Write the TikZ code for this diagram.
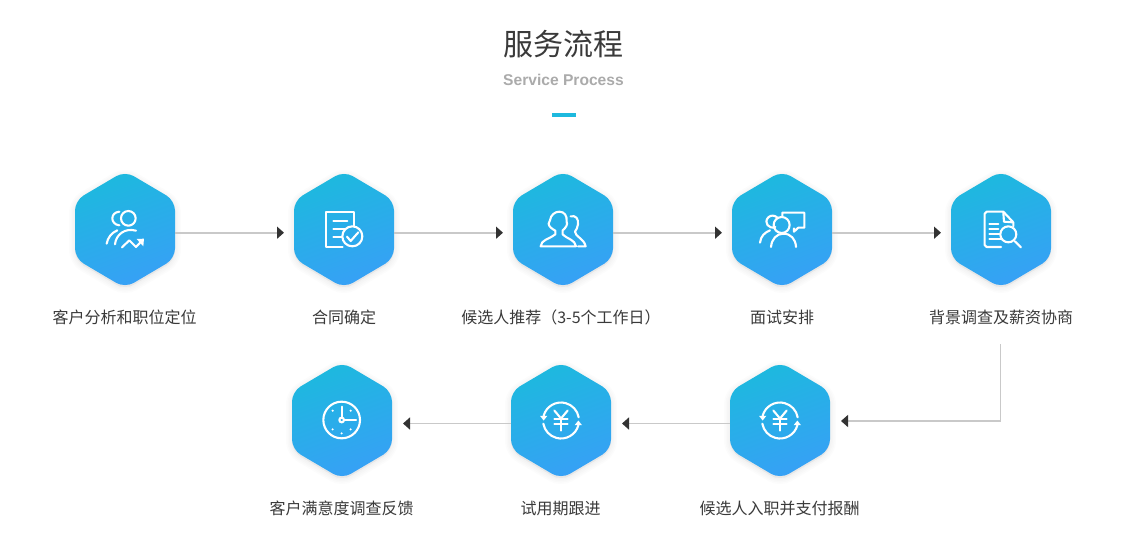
\documentclass[tikz,border=0pt]{standalone}
\usepackage{fontspec}
\setmainfont{Noto Sans CJK SC}
\newfontfamily\latinfont{Liberation Sans}
\usetikzlibrary{arrows.meta}
\definecolor{hextop}{HTML}{1DB9DE}
\definecolor{hexbot}{HTML}{37A0F6}
\definecolor{linegrey}{HTML}{C9C9C9}
\definecolor{tipdark}{HTML}{333333}
\definecolor{txt}{HTML}{3A3A3A}
\tikzset{
  x=1pt,y=-1pt,
  hexanchor/.style={minimum width=100pt,minimum height=111pt,inner sep=0pt,outer sep=0pt},
  steplabel/.style={text=txt,font=\fontsize{16}{18}\selectfont,inner sep=0pt},
  flow/.style={draw=linegrey,line width=1.6pt,-{Triangle[length=7pt,width=12pt,color=tipdark]},shorten >=10pt},
  icon/.style={draw=white,line width=2.1pt,line cap=round,line join=round,fill=none},
  iconfill/.style={fill=white,draw=none},
  zoomscale/.style={x=0.3333pt,y=-0.3333pt}
}
\newcommand{\hexpath}[2]{(#1,#2-58.5) -- (#1+50,#2-29) -- (#1+50,#2+29) -- (#1,#2+58.5) -- (#1-50,#2+29) -- (#1-50,#2-29) -- cycle}
\newcommand{\hexagon}[3]{%
  \foreach \w in {12,9,6,3}{\draw[black,opacity=0.012,line width=\w pt,rounded corners=10pt,fill=black,fill opacity=0.012] \hexpath{#2}{#3+2};}
  \shade[rounded corners=10pt,top color=hextop,bottom color=hexbot,shading angle=20] \hexpath{#2}{#3};
  \node[hexanchor] (#1) at (#2,#3) {};
}
\newcommand{\yenicon}[2]{%
  \begin{scope}[shift={(#1,#2)},zoomscale]
    \draw[icon] (-52.2,-14) arc[start angle=195,end angle=350,radius=54];
    \draw[icon] (52.2,14) arc[start angle=15,end angle=170,radius=54];
    \path[iconfill] (-63,-14) -- (-41,-14) -- (-52,0) -- cycle;
    \path[iconfill] (63,14) -- (41,14) -- (52,0) -- cycle;
    \draw[icon] (-20,-30) -- (0,-6) -- (20,-30);
    \draw[icon] (-20,-4) -- (20,-4);
    \draw[icon] (-20,11) -- (20,11);
    \draw[icon] (0,-6) -- (0,30);
  \end{scope}%
}
\begin{document}
\begin{tikzpicture}
\useasboundingbox[fill=white] (0,0) rectangle (1135,558);

\node[inner sep=0pt,text=txt,font=\fontsize{30}{34}\selectfont] (title) at (563.5,44) {服务流程};
\node[inner sep=0pt,text=black!33,font=\latinfont\bfseries\fontsize{15.6}{17}\selectfont] (subtitle) at (563.5,80) {Service Process};
\path[fill=hextop] (552,113) rectangle (576,117);

\hexagon{h1}{125}{229.5}
\hexagon{h2}{344}{229.5}
\hexagon{h3}{563}{229.5}
\hexagon{h4}{782}{229.5}
\hexagon{h5}{1001}{229.5}
\hexagon{h6}{780}{420.5}
\hexagon{h7}{561}{420.5}
\hexagon{h8}{342}{420.5}

\node[steplabel] (l1) at (124.5,317.5) {客户分析和职位定位};
\node[steplabel] (l2) at (344,317.5) {合同确定};
\node[steplabel] (l3) at (561,317.5) {候选人推荐（3-5个工作日）};
\node[steplabel] (l4) at (782,317.5) {面试安排};
\node[steplabel] (l5) at (1001,317.5) {背景调查及薪资协商};
\node[steplabel] (l6) at (779.5,508.5) {候选人入职并支付报酬};
\node[steplabel] (l7) at (560.5,508.5) {试用期跟进};
\node[steplabel] (l8) at (341.5,508.5) {客户满意度调查反馈};

\draw[flow] ([yshift=-3.2pt]h1.east) -- ([yshift=-3.2pt]h2.west);
\draw[flow] ([yshift=-3.2pt]h2.east) -- ([yshift=-3.2pt]h3.west);
\draw[flow] ([yshift=-3.2pt]h3.east) -- ([yshift=-3.2pt]h4.west);
\draw[flow] ([yshift=-3.2pt]h4.east) -- ([yshift=-3.2pt]h5.west);
\coordinate (turn) at (1000.5,421);
\coordinate (drop) at (1000.5,344);
\draw[flow,line width=1.1pt,shorten >=11pt] (drop) -- (turn) -- ([yshift=-0.5pt]h6.east);
\draw[flow,shorten >=11pt] ([yshift=-3pt]h6.west) -- ([yshift=-3pt]h7.east);
\draw[flow,shorten >=11pt] ([yshift=-3pt]h7.west) -- ([yshift=-3pt]h8.east);

% icon 1
\begin{scope}[shift={(60,165)},zoomscale]
  \draw[icon] (205,160) circle (22);
  \draw[icon] (178,140) .. controls (150,142) and (150,178) .. (178,181);
  \draw[icon] (165,238) .. controls (168,208) and (195,188) .. (228,197);
  \draw[icon] (140,236) .. controls (143,218) and (155,203) .. (172,196);
  \draw[icon] (186,247) -- (208,226) -- (228,246) -- (245,228);
  \path[iconfill] (230,222) -- (252,221) -- (250,244) -- cycle;
\end{scope}
% icon 2
\begin{scope}[shift={(300,165)},zoomscale]
  \draw[icon] (128,245) -- (77,245) -- (77,140) -- (163,140) -- (163,184);
  \draw[icon] (100,168) -- (142,168);
  \draw[icon] (100,192) -- (135,192);
  \draw[icon] (100,215) -- (125,215);
  \draw[icon] (157,214) circle (30);
  \draw[icon] (141,215) -- (152,228) -- (175,202);
\end{scope}
% icon 3
\begin{scope}[shift={(300,165)},zoomscale]
  \draw[icon] (722,244) .. controls (724,224) and (745,224) .. (766,208)
    -- (766,197) .. controls (756,192) and (746,184) .. (746,176)
    .. controls (750,172) and (749,170) .. (750,166)
    .. controls (752,150) and (765,140) .. (778,140)
    .. controls (793,140) and (802,152) .. (800,170)
    .. controls (805,178) and (796,190) .. (788,196)
    -- (788,208) .. controls (805,224) and (825,224) .. (828,244) -- cycle;
  \draw[icon] (812,154) .. controls (828,150) and (836,162) .. (834,178)
    .. controls (836,188) and (826,194) .. (825,200)
    .. controls (826,216) and (852,220) .. (857,244) -- (834,244);
\end{scope}
% icon 4
\begin{scope}[shift={(720,165)},zoomscale]
  \draw[icon] (187,155) -- (187,143) -- (253,143) -- (253,188) -- (235,188) -- (222,200) -- (222,190);
  \draw[icon] (166,186) .. controls (146,194) and (130,172) .. (145,157) .. controls (152,150) and (165,150) .. (172,158);
  \draw[icon] (185,180) circle (24);
  \draw[icon] (120,233) .. controls (122,213) and (135,202) .. (150,196);
  \draw[icon] (153,246) .. controls (155,222) and (170,206) .. (190,206) .. controls (212,206) and (227,222) .. (228,246);
\end{scope}
% icon 5
\begin{scope}[shift={(720,165)},zoomscale]
  \draw[icon] (843,246) -- (800,246) -- (794,240) -- (794,146) -- (800,140) -- (850,140) -- (880,172) -- (880,184);
  \draw[icon] (850,142) -- (852,170) -- (878,172);
  \draw[icon] (808,178) -- (835,178);
  \draw[icon] (808,192) -- (835,192);
  \draw[icon] (808,207) -- (838,207);
  \draw[icon] (808,222) -- (842,222);
  \draw[icon] (865,208) circle (24);
  \draw[icon] (885,229) -- (903,247);
\end{scope}
% icons 6 and 7
\yenicon{780}{420.5}
\yenicon{561}{420.5}
% icon 8
\begin{scope}[shift={(285,360)},zoomscale]
  \draw[icon] (170,180) circle (55);
  \draw[icon] (170,180) circle (7);
  \draw[icon] (170,173) -- (170,140);
  \draw[icon] (177,180) -- (213,180);
  \foreach \p in {(143,152),(197,152),(143,208),(197,208),(170,220)}{\path[iconfill] \p circle (3.5);}
\end{scope}
\end{tikzpicture}
\end{document}
